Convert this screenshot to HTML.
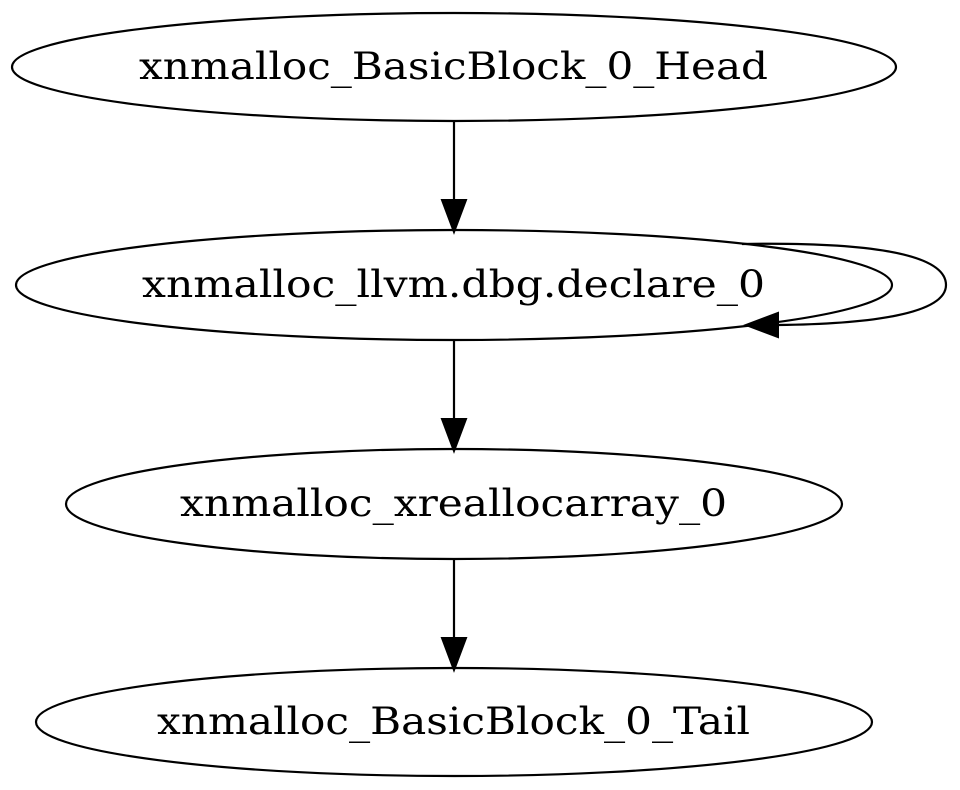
<!DOCTYPE html>
<html><head><style>
html,body{margin:0;padding:0;background:#fff;}
svg{display:block;}
text{font-family:"DejaVu Serif","Liberation Serif",serif;font-size:37px;fill:#000;}
</style></head><body>
<svg width="960" height="790" viewBox="0 0 960 790" xmlns="http://www.w3.org/2000/svg">
<g fill="none" stroke="#000" stroke-width="2.2">
<ellipse cx="454" cy="67" rx="442" ry="54"/>
<ellipse cx="454" cy="285" rx="438" ry="55"/>
<ellipse cx="454" cy="504" rx="388" ry="55"/>
<ellipse cx="454" cy="722" rx="418" ry="54"/>
<line x1="454" y1="121" x2="454" y2="200"/>
<line x1="454" y1="340" x2="454" y2="419"/>
<line x1="454" y1="559" x2="454" y2="638"/>
<path d="M742 244 C860 242 946 252 946 285 C946 314 870 324 778 325"/>
</g>
<g fill="#000" stroke="#000" stroke-width="2">
<polygon points="442,200 466,200 454,232"/>
<polygon points="442,419 466,419 454,451"/>
<polygon points="442,638 466,638 454,670"/>
<polygon points="778,313 778,337 746,325"/>
</g>
<text x="139" y="79" textLength="629" lengthAdjust="spacingAndGlyphs">xnmalloc_BasicBlock_0_Head</text>
<text x="142" y="297" textLength="623" lengthAdjust="spacingAndGlyphs">xnmalloc_llvm.dbg.declare_0</text>
<text x="180" y="516" textLength="547" lengthAdjust="spacingAndGlyphs">xnmalloc_xreallocarray_0</text>
<text x="157" y="734" textLength="593" lengthAdjust="spacingAndGlyphs">xnmalloc_BasicBlock_0_Tail</text>
</svg>
</body></html>
